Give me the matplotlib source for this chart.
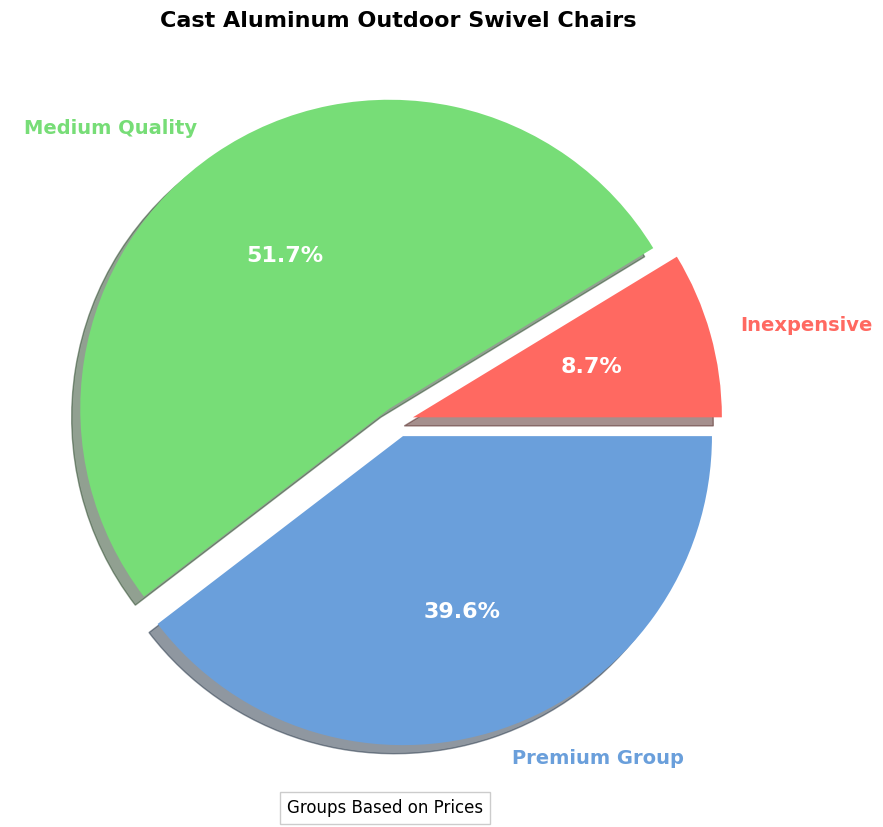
import matplotlib
matplotlib.use("Agg")
import matplotlib.pyplot as plt

# Data
categories = ['Inexpensive', 'Medium Quality', 'Premium Group']
shares = [8.7, 51.7, 39.6]
colors = ['#ff6961', '#77dd77', '#6a9fdb']
explode = [0.05, 0.05, 0.05]

fig = plt.figure(figsize=(8.83, 8.27), dpi=100)
W, H = 883, 827
R = 309.0
cx, cy = 398, 827 - 421.5
half = 1.25 * R
ax = fig.add_axes([(cx - half) / W, (cy - half) / H, 2 * half / W, 2 * half / H])

wedges, texts, autotexts = ax.pie(
    shares, labels=categories, colors=colors, explode=explode,
    autopct='%1.1f%%', startangle=0, shadow=True,
    textprops={'fontsize': 14, 'fontweight': 'bold'})

for t, c in zip(texts, colors):
    t.set_color(c)
for t in autotexts:
    t.set_color('white')
    t.set_fontsize(16)

ax.set_xlim(-1.25, 1.25)
ax.set_ylim(-1.25, 1.25)
ax.set_aspect('equal')
ax.set_title('Cast Aluminum Outdoor Swivel Chairs', fontsize=16, fontweight='bold')

fig.text(0.436, 0.023, 'Groups Based on Prices', ha='center', va='center', fontsize=12,
         bbox=dict(facecolor='white', edgecolor='#cccccc', boxstyle='square,pad=0.4'))

fig.savefig('out.png', dpi=100)
